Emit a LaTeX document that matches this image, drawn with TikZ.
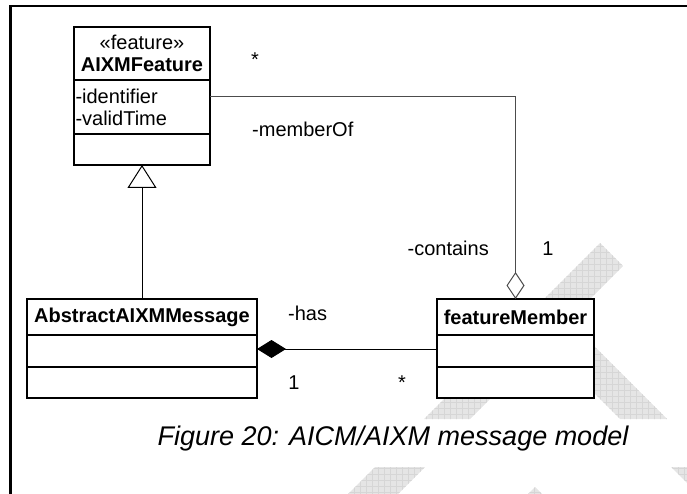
\documentclass[tikz,border=0pt]{standalone}
\usepackage{fontspec}
\setmainfont{Liberation Sans}
\usetikzlibrary{positioning, arrows.meta}
\tikzset{
  % UML class boxes
  classname/.style = { draw, line width=1.2pt, fill=white, inner sep=0, outer sep=0,
                        align=center, font=\fontsize{20}{22}\selectfont },
  classpart/.style = { draw, line width=1.2pt, fill=white, inner xsep=1.5pt, inner ysep=0,
                        outer sep=0, align=left, font=\fontsize{20}{22}\selectfont },
  % Connectors
  generalize/.style = { line width=1pt, -{Triangle[open, length=23pt, width=29pt]} },
  aggregate/.style  = { line width=1pt, black!70, {Diamond[open, length=27pt, width=18pt]}-,
                         shorten <=0pt },
  compose/.style    = { line width=1pt, {Diamond[length=29pt, width=18pt]}- },
  rolelabel/.style  = { font=\fontsize{20}{22}\selectfont, inner sep=0 },
  figcaption/.style = { font=\fontsize{27}{30}\selectfont\itshape, inner sep=0 },
  watermark/.style  = { fill=gray!20 }
}

\begin{document}
\begin{tikzpicture}[x=1pt, y=-1pt]
  \useasboundingbox (0,0) rectangle (687,494);

  % --- background watermark ------------------------------------------
  \begin{scope}
    \clip (600,243) -- (623,266) -- (470,419) -- (424,419) -- cycle
          (531,330) -- (578,330) -- (667,419) -- (620,419) -- cycle
          (375,467) -- (425,467) -- (398,494) -- (348,494) -- cycle
          (671,467) -- (687,467) -- (687,483) -- cycle
          (528,494) -- (535,487) -- (542,494) -- cycle;
    \fill[watermark] (300,230) rectangle (687,494);
    \draw[gray!32, line width=0.5pt, step=6pt] (300,230) grid (687,494);
  \end{scope}

  % --- frame ---------------------------------------------------------
  \draw[line width=2.5pt] (687,6) -- (10.5,6) -- (10.5,494);

  % --- classes -------------------------------------------------------
  \node[classname, minimum width=136pt, minimum height=53pt] (feat-name) at (142,53.5)
    {\guillemotleft feature\guillemotright\\\textbf{AIXMFeature}};
  \node[classpart, text width=133pt, minimum height=54pt, below=0pt of feat-name] (feat-attr)
    {-identifier\\-validTime};
  \node[classpart, minimum width=136pt, minimum height=31pt, below=0pt of feat-attr] (feat-ops) {};

  \node[classname, minimum width=230pt, minimum height=36pt] (abs-name) at (142,317)
    {\textbf{AbstractAIXMMessage}};
  \node[classpart, minimum width=230pt, minimum height=32pt, below=0pt of abs-name] (abs-attr) {};
  \node[classpart, minimum width=230pt, minimum height=31pt, below=0pt of abs-attr] (abs-ops) {};

  \node[classname, minimum width=157pt, minimum height=36pt] (fm-name) at (515.5,317)
    {\textbf{featureMember}};
  \node[classpart, minimum width=157pt, minimum height=32pt, below=0pt of fm-name] (fm-attr) {};
  \node[classpart, minimum width=157pt, minimum height=31pt, below=0pt of fm-attr] (fm-ops) {};

  % --- relations -----------------------------------------------------
  \draw[generalize] (abs-name.north) -- (feat-ops.south);
  \coordinate (member-end) at ([yshift=10pt]feat-attr.east);
  \draw[aggregate] (fm-name.north) |- (member-end);
  \draw[compose] ([yshift=2pt]abs-attr.east) -- ([yshift=2pt]fm-attr.west);

  % role names and multiplicities
  \node[rolelabel, anchor=base] (mult-feat) at (255,67) {*};
  \node[rolelabel, anchor=base west] (role-memberof) at (252,137) {-memberOf};
  \node[rolelabel, anchor=base east] (role-contains) at (489,255) {-contains};
  \node[rolelabel, anchor=base] (mult-fm-top) at (548,255) {1};
  \node[rolelabel, anchor=base west] (role-has) at (288,320) {-has};
  \node[rolelabel, anchor=base] (mult-abs) at (294,389) {1};
  \node[rolelabel, anchor=base] (mult-fm) at (402,389) {*};

  % --- caption -------------------------------------------------------
  \node[figcaption, anchor=base] (caption) at (393,445) {Figure 20: AICM/AIXM message model};

\end{tikzpicture}
\end{document}
